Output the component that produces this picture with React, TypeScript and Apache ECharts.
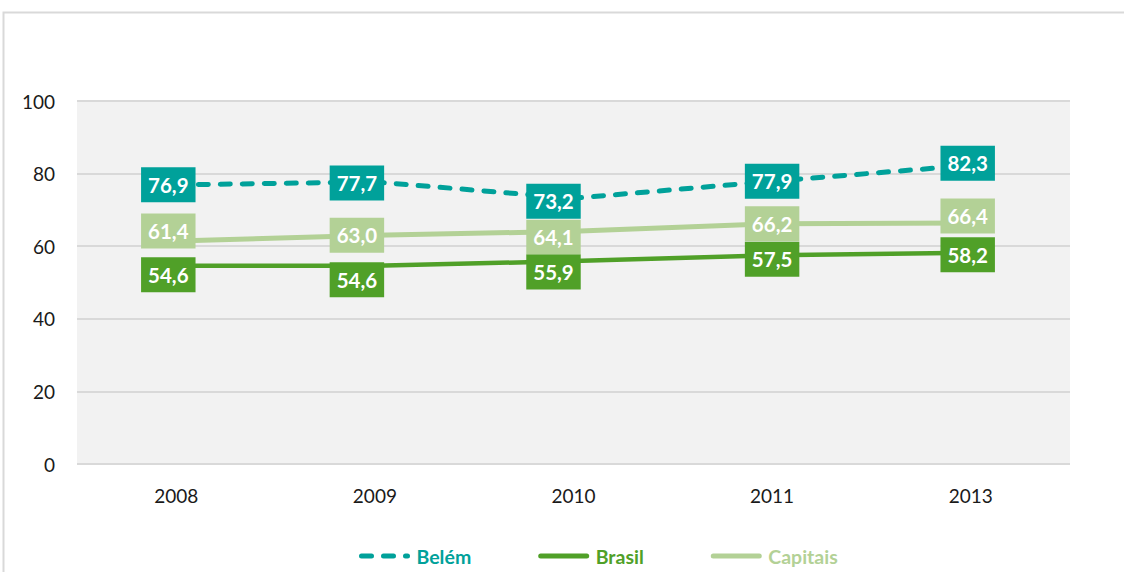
import React, { useEffect, useRef } from "react";
import * as echarts from "echarts";

const categories = ["2008", "2009", "2010", "2011", "2013"];
const belem = [76.9, 77.7, 73.2, 77.9, 82.3];
const brasil = [54.6, 54.6, 55.9, 57.5, 58.2];
const capitais = [61.4, 63.0, 64.1, 66.2, 66.4];
const yTicks = [0, 20, 40, 60, 80, 100];

// label placement nudges (pixels)
const labelDx = [-8, -18, -20, 0, -3];
const belemDy = [0, 1, 3, 0, -2];
const capitaisDy = [-10, 0, 6, 0, -7];
const brasilDy = [9, 14, 11, 4, 2];

const C_BELEM = "#00A19A";
const C_BRASIL = "#50A028";
const C_CAP = "#B3D196";

const FONT = "Lato, 'Open Sans', sans-serif";

function fmt(v: number) {
  return v.toFixed(1).replace(".", ",");
}

function buildLabels(values: number[], dy: number[], color: string) {
  return values.map((v, i) => ({
    value: [categories[i], v],
    label: {
      show: true,
      position: "inside",
      offset: [labelDx[i], dy[i]],
      formatter: () => fmt(v),
      backgroundColor: color,
      color: "#FFFFFF",
      opacity: 1,
      fontFamily: FONT,
      fontWeight: "bold",
      fontSize: 20.5,
      lineHeight: 20,
      padding: [8, 7, 7, 7],
    },
  }));
}

function labelSeries(name: string, values: number[], dy: number[], color: string, z: number) {
  return {
    name,
    type: "scatter",
    symbolSize: 1,
    itemStyle: { color: "rgba(0,0,0,0)" },
    silent: true,
    data: buildLabels(values, dy, color),
    z,
  };
}

export default function App() {
  const ref = useRef<HTMLDivElement>(null);
  useEffect(() => {
    document.body.style.margin = "0";
    if (!ref.current) return;
    const chart = echarts.init(ref.current, undefined, { renderer: "svg" });
    chart.setOption({
      animation: false,
      backgroundColor: "#FFFFFF",
      graphic: [
        {
          type: "rect",
          shape: { x: 3.5, y: 12.5, width: 1300, height: 800 },
          style: { fill: "none", stroke: "#D9D9D9", lineWidth: 2 },
          silent: true,
          z: -10,
        },
      ],
      grid: {
        left: 77,
        right: 54,
        top: 101,
        bottom: 108,
        show: true,
        backgroundColor: "#F2F2F2",
        borderWidth: 0,
      },
      legend: {
        left: 354,
        top: 541,
        itemWidth: 46,
        itemHeight: 14,
        itemGap: 67,
        itemStyle: { color: "rgba(0,0,0,0)", borderWidth: 0, opacity: 0 },
        lineStyle: { width: 5, cap: "round" },
        data: [
          { name: "Belém", textStyle: { color: C_BELEM } },
          { name: "Brasil", textStyle: { color: C_BRASIL } },
          { name: "Capitais", textStyle: { color: C_CAP } },
        ],
        textStyle: { fontFamily: FONT, fontWeight: "bold", fontSize: 19.5, padding: [0, 0, 0, 4] },
      },
      xAxis: {
        type: "category",
        data: categories,
        boundaryGap: true,
        axisLine: { show: false },
        axisTick: { show: false },
        axisLabel: { color: "#1A1A1A", fontFamily: FONT, fontSize: 19, margin: 22 },
      },
      yAxis: {
        type: "value",
        min: yTicks[0],
        max: yTicks[yTicks.length - 1],
        interval: 20,
        axisLine: { show: false },
        axisTick: { show: false },
        axisLabel: { color: "#1A1A1A", fontFamily: FONT, fontSize: 19, margin: 22 },
        splitLine: { lineStyle: { color: "#D9D9D9", width: 2 } },
      },
      series: [
        {
          name: "Belém",
          type: "line",
          symbol: "none",
          data: belem,
          lineStyle: { color: C_BELEM, width: 5, type: [10, 12], cap: "round" },
          itemStyle: { color: C_BELEM },
          z: 4,
        },
        {
          name: "Brasil",
          type: "line",
          symbol: "none",
          data: brasil,
          lineStyle: { color: C_BRASIL, width: 4.5 },
          itemStyle: { color: C_BRASIL },
          z: 3,
        },
        {
          name: "Capitais",
          type: "line",
          symbol: "none",
          data: capitais,
          lineStyle: { color: C_CAP, width: 5 },
          itemStyle: { color: C_CAP },
          z: 2,
        },
        labelSeries("Capitais rótulos", capitais, capitaisDy, C_CAP, 5),
        labelSeries("Brasil rótulos", brasil, brasilDy, C_BRASIL, 6),
        labelSeries("Belém rótulos", belem, belemDy, C_BELEM, 7),
      ],
    });
    return () => chart.dispose();
  }, []);
  return <div ref={ref} style={{ width: 1124, height: 572 }} />;
}
